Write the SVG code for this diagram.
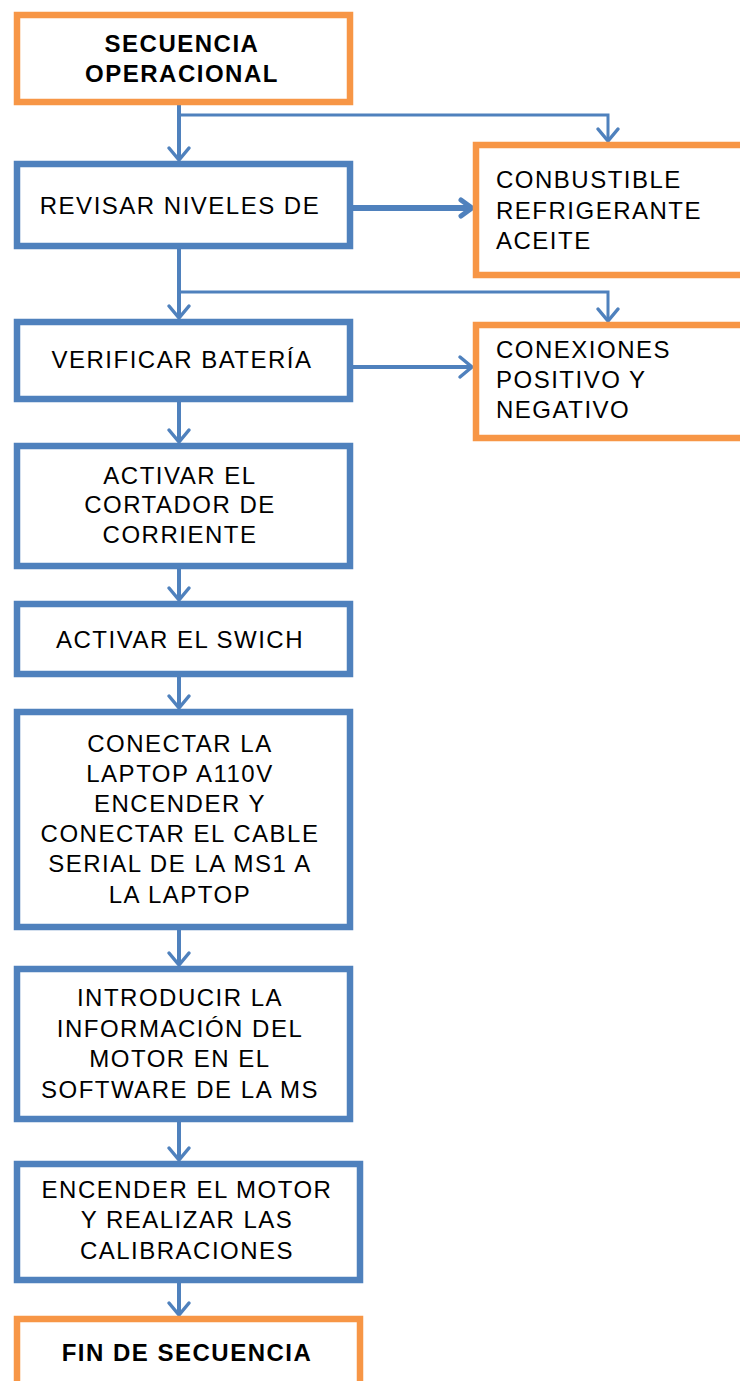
<svg xmlns="http://www.w3.org/2000/svg" width="740" height="1381" viewBox="0 0 740 1381">
<style>
.b{fill:#fff;stroke:#4F81BD;stroke-width:6.5}
.o{fill:#fff;stroke:#F79646;stroke-width:6.5}
.t{font-family:"Liberation Sans",Arial,sans-serif;font-size:24px;letter-spacing:1.5px;fill:#000}
.c{text-anchor:middle}
.bold{font-weight:bold}
.ln{fill:none;stroke:#4F81BD;stroke-width:4}
.thin{stroke-width:3}
.thick{stroke-width:6}
</style>
<defs>
<marker id="ah" markerUnits="userSpaceOnUse" viewBox="-16 -14 20 28" refX="0" refY="0" markerWidth="20" markerHeight="28" orient="auto" overflow="visible">
<path d="M-12,-10 L0,0 L-12,10" fill="none" stroke="#4F81BD" stroke-width="3.5" stroke-linecap="round" stroke-linejoin="round"/>
</marker>
<marker id="ahT" markerUnits="userSpaceOnUse" viewBox="-16 -14 20 28" refX="0" refY="0" markerWidth="20" markerHeight="28" orient="auto" overflow="visible">
<path d="M-11,-8 L0,0 L-11,8" fill="none" stroke="#4F81BD" stroke-width="5" stroke-linecap="round" stroke-linejoin="round"/>
</marker>
</defs>
<g id="connectors">
<path class="ln" d="M179,105 V160" marker-end="url(#ah)"/>
<path class="ln thin" d="M179,115 H608 V141" marker-end="url(#ah)"/>
<path class="ln thick" d="M353,208 H472" marker-end="url(#ahT)"/>
<path class="ln" d="M179,249 V318" marker-end="url(#ah)"/>
<path class="ln thin" d="M179,292 H608 V321" marker-end="url(#ah)"/>
<path class="ln" d="M353,367 H472" marker-end="url(#ah)"/>
<path class="ln" d="M179,402 V442" marker-end="url(#ah)"/>
<path class="ln" d="M179,569 V600" marker-end="url(#ah)"/>
<path class="ln" d="M179,677 V708" marker-end="url(#ah)"/>
<path class="ln" d="M179,930 V965" marker-end="url(#ah)"/>
<path class="ln" d="M179,1122 V1160" marker-end="url(#ah)"/>
<path class="ln" d="M179,1283 V1315" marker-end="url(#ah)"/>
</g>
<g id="n1">
<rect class="o" x="17" y="15" width="333" height="87"/>
<text class="t c bold" x="182" y="52">SECUENCIA</text>
<text class="t c bold" x="182" y="82">OPERACIONAL</text>
</g>
<g id="n2">
<rect class="b" x="17" y="164" width="333" height="82"/>
<text class="t c" x="180" y="214">REVISAR NIVELES DE</text>
</g>
<g id="n3">
<rect class="o" x="476" y="145" width="300" height="130"/>
<text class="t" x="496" y="188">CONBUSTIBLE</text>
<text class="t" x="496" y="219">REFRIGERANTE</text>
<text class="t" x="496" y="249">ACEITE</text>
</g>
<g id="n4">
<rect class="b" x="17" y="322" width="333" height="77"/>
<text class="t c" x="182" y="368">VERIFICAR BATERÍA</text>
</g>
<g id="n5">
<rect class="o" x="476" y="325" width="300" height="113"/>
<text class="t" x="496" y="358">CONEXIONES</text>
<text class="t" x="496" y="388">POSITIVO Y</text>
<text class="t" x="496" y="418">NEGATIVO</text>
</g>
<g id="n6">
<rect class="b" x="17" y="446" width="333" height="120"/>
<text class="t c" x="180" y="484">ACTIVAR EL</text>
<text class="t c" x="180" y="513">CORTADOR DE</text>
<text class="t c" x="180" y="543">CORRIENTE</text>
</g>
<g id="n7">
<rect class="b" x="17" y="604" width="333" height="70"/>
<text class="t c" x="180" y="648">ACTIVAR EL SWICH</text>
</g>
<g id="n8">
<rect class="b" x="17" y="712" width="333" height="215"/>
<text class="t c" x="180" y="752">CONECTAR LA</text>
<text class="t c" x="180" y="782">LAPTOP A110V</text>
<text class="t c" x="180" y="812">ENCENDER Y</text>
<text class="t c" x="180" y="842">CONECTAR EL CABLE</text>
<text class="t c" x="180" y="872">SERIAL DE LA MS1 A</text>
<text class="t c" x="180" y="903">LA LAPTOP</text>
</g>
<g id="n9">
<rect class="b" x="17" y="969" width="333" height="150"/>
<text class="t c" x="180" y="1006">INTRODUCIR LA</text>
<text class="t c" x="180" y="1037">INFORMACIÓN DEL</text>
<text class="t c" x="180" y="1067">MOTOR EN EL</text>
<text class="t c" x="180" y="1098">SOFTWARE DE LA MS</text>
</g>
<g id="n10">
<rect class="b" x="17" y="1164" width="343" height="116"/>
<text class="t c" x="187" y="1198">ENCENDER EL MOTOR</text>
<text class="t c" x="187" y="1228">Y REALIZAR LAS</text>
<text class="t c" x="187" y="1259">CALIBRACIONES</text>
</g>
<g id="n11">
<rect class="o" x="17" y="1319" width="343" height="90"/>
<text class="t c bold" x="187" y="1361">FIN DE SECUENCIA</text>
</g>
</svg>
